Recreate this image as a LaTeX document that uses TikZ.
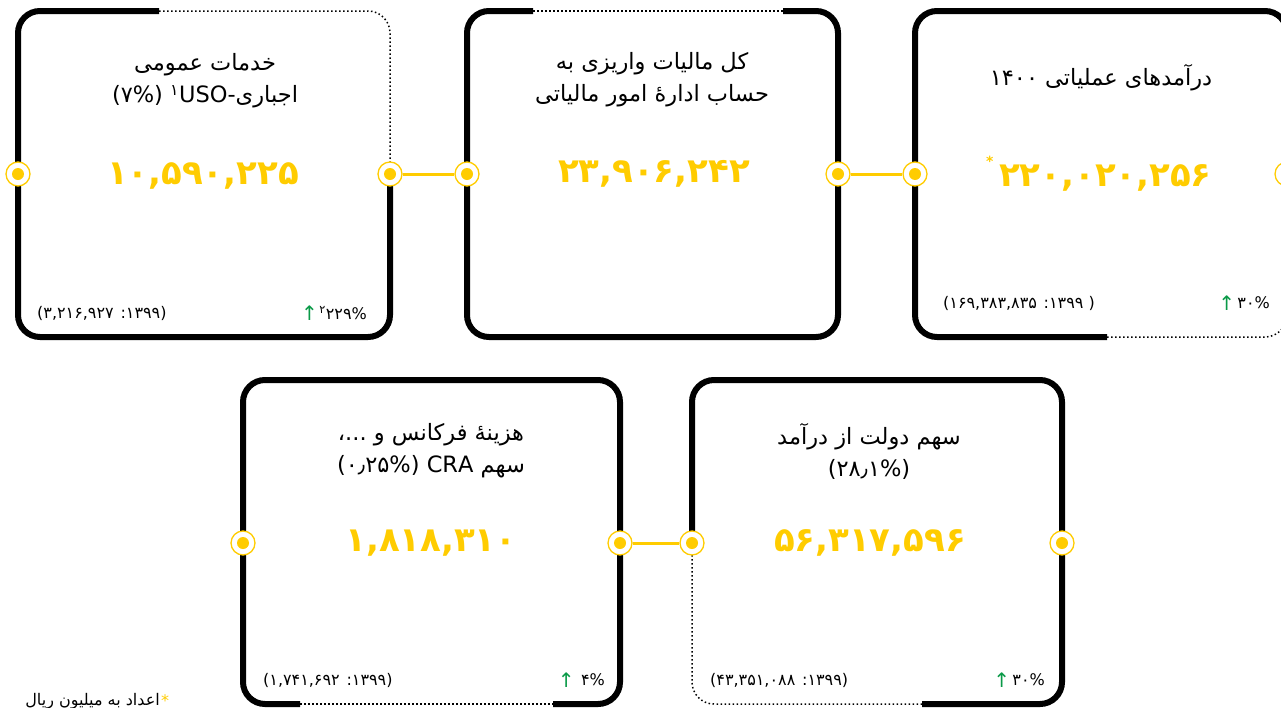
\documentclass[tikz,border=0pt]{standalone}
\usepackage{fontspec}
\usetikzlibrary{positioning}
\setmainfont{DejaVu Sans}
\newfontfamily\fa[Script=Arabic]{DejaVu Sans}
\TeXXeTstate=1
\definecolor{gold}{HTML}{FFCC00}
\definecolor{upgreen}{HTML}{0A9A48}
\tikzset{
  boxline/.style={line width=6pt, rounded corners=22pt},
  boxdots/.style={line width=1.5pt, dash pattern=on 1.5pt off 2.5pt, rounded corners=22pt},
  port/.style={circle, draw=gold, fill=white, line width=1.3pt, minimum size=24pt, inner sep=0pt,
    path picture={\fill[gold] (path picture bounding box.center) circle (6pt);}},
  joint/.style={draw=gold, line width=3pt},
  heading/.style={font=\fa\fontsize{22.5}{32}\selectfont, align=center, inner sep=0pt},
  amount/.style={font=\fa\bfseries\fontsize{34}{34}\selectfont, text=gold, inner sep=0pt},
  prevyear/.style={font=\fa\fontsize{16}{16}\selectfont, inner sep=0pt},
  growth/.style={font=\fa\fontsize{16}{16}\selectfont, inner sep=0pt},
  uparrow/.style={font=\fontsize{20}{20}\selectfont, text=upgreen, inner sep=0pt}
}
\begin{document}
\begin{tikzpicture}[x=1pt,y=-1pt]
\useasboundingbox (0,0) rectangle (1281,707);

\draw[boxline] (159,11) -- (18,11) -- (18,337) -- (390,337) -- (390,174);
\draw[boxdots] (159,11) -- (390,11) -- (390,174);
\draw[boxline] (533,11) -- (467,11) -- (467,337) -- (838,337) -- (838,11) -- (783,11);
\draw[boxdots] (533,11) -- (783,11);
\draw[boxline] (1107,337) -- (915,337) -- (915,11) -- (1287,11) -- (1287,174);
\draw[boxdots] (1107,337) -- (1287,337) -- (1287,174);
\draw[boxline] (300,704) -- (243,704) -- (243,380) -- (620,380) -- (620,704) -- (553,704);
\draw[boxdots] (300,704) -- (553,704);
\draw[boxline] (692,543) -- (692,380) -- (1062,380) -- (1062,704) -- (922,704);
\draw[boxdots] (692,543) -- (692,704) -- (922,704);

\begin{scope}[every node/.style=port]
    \node (p11) at (18,174) {};
    \node (p12) at (390,174) {};
    \node (p21) at (467,174) {};
    \node (p22) at (838,174) {};
    \node (p31) at (915,174) {};
    \node (p32) at (1287,174) {};
    \node (p41) at (243,543) {};
    \node (p42) at (620,543) {};
    \node (p51) at (692,543) {};
    \node (p52) at (1062,543) {};
\end{scope}

\draw[joint] (p12) -- (p21);
\draw[joint] (p22) -- (p31);
\draw[joint] (p42) -- (p51);

\node[heading] (h1) at (205,81) {\beginR خدمات عمومی\endR\\\beginR اجباری-USO\textsuperscript{۱} (۷\%)\endR};
\node[heading] (h2) at (652,80) {\beginR کل مالیات واریزی به\endR\\\beginR حساب ادارهٔ امور مالیاتی\endR};
\node[heading] (h3) at (1101,78) {\beginR درآمدهای عملیاتی ۱۴۰۰\endR};
\node[heading] (h4) at (431,451) {\beginR هزینهٔ فرکانس و ...،\endR\\\beginR سهم CRA (۰٫۲۵\%)\endR};
\node[heading] (h5) at (869,451) {\beginR سهم دولت از درآمد\endR\\\beginR (۲۸٫۱\%)\endR};

\node[amount] (v1) at (203,176) {۱۰,۵۹۰,۲۲۵};
\node[amount] (v2) at (654,174) {۲۳,۹۰۶,۲۴۲};
\node[amount] (v3) at (1099,174) {\raisebox{20pt}{\fontsize{14}{14}\selectfont *}\,۲۲۰,۰۲۰,۲۵۶};
\node[amount] (v4) at (431,543) {۱,۸۱۸,۳۱۰};
\node[amount] (v5) at (870,543) {۵۶,۳۱۷,۵۹۶};

\node[prevyear, anchor=west] (o1) at (37,313) {\beginR(۱۳۹۹: ۳,۲۱۶,۹۲۷)\endR};
\node[prevyear, anchor=west] (o3) at (943,303) {\beginR( ۱۳۹۹: ۱۶۹,۳۸۳,۸۳۵)\endR};
\node[prevyear, anchor=west] (o4) at (263,680) {\beginR(۱۳۹۹: ۱,۷۴۱,۶۹۲)\endR};
\node[prevyear, anchor=west] (o5) at (710,680) {\beginR(۱۳۹۹: ۴۳,۳۵۱,۰۸۸)\endR};

\node[growth, anchor=east] (g1) at (367,313) {\beginR ۲۲۹\%\textsuperscript{۲}\endR};
\node[growth, anchor=east] (g3) at (1270,303) {\beginR ۳۰\%\endR};
\node[growth, anchor=east] (g4) at (605,680) {\beginR ۴\%\endR};
\node[growth, anchor=east] (g5) at (1045,680) {\beginR ۳۰\%\endR};

\node[uparrow, left=1pt of g1] (a1) {↑};
\node[uparrow, left=2pt of g3] (a3) {↑};
\node[uparrow, left=6pt of g4] (a4) {↑};
\node[uparrow, left=2pt of g5] (a5) {↑};

\node[prevyear, anchor=base east] (fn) at (160,705) {\beginR اعداد به میلیون ریال\endR};
\node[prevyear, text=gold, right=1pt of fn] (star) {*};
\end{tikzpicture}
\end{document}
